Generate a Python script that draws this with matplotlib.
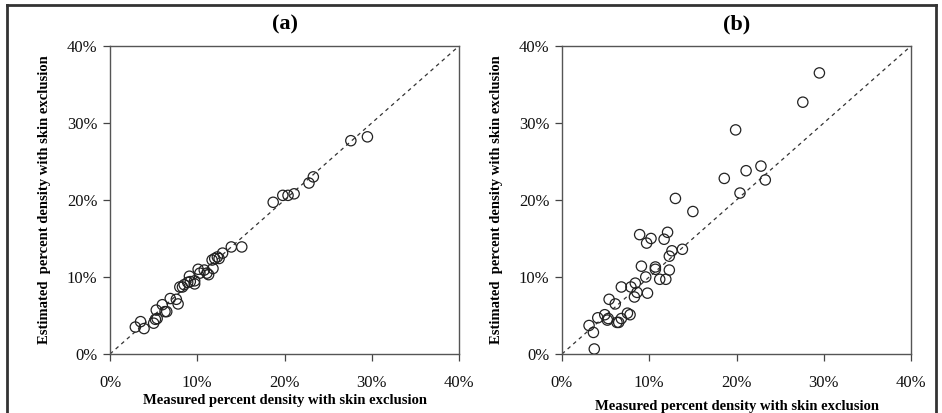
import numpy as np
import matplotlib
matplotlib.use("Agg")
from matplotlib import pyplot as plt
from matplotlib.lines import Line2D

plt.rcParams['font.family'] = ['Liberation Serif', 'DejaVu Serif']

# panel (a): measured vs estimated percent density (%)
a_measured = [2.9, 3.5, 3.9, 5.0, 5.2, 5.4, 5.3, 6.0, 6.3, 6.5, 6.9, 7.6, 7.8,
              8.0, 8.3, 8.5, 8.9, 9.1, 9.2, 9.7, 9.7, 10.1, 10.3, 10.8, 11.1,
              11.3, 11.8, 11.7, 12.0, 12.3, 12.5, 12.9, 13.9, 15.1,
              18.7, 19.8, 20.4, 21.1, 22.8, 23.3, 27.6, 29.5]
a_estimated = [3.5, 4.2, 3.3, 4.0, 4.5, 4.6, 5.7, 6.4, 5.5, 5.5, 7.2, 7.1, 6.5,
               8.7, 8.7, 9.0, 9.3, 10.1, 9.4, 9.1, 9.5, 11.0, 10.5, 10.9, 10.5,
               10.3, 11.1, 12.2, 12.4, 12.6, 12.4, 13.1, 13.9, 13.9,
               19.7, 20.6, 20.6, 20.8, 22.2, 23.0, 27.7, 28.2]

# panel (b)
b_measured = [3.7, 3.6, 3.1, 4.1, 4.9, 5.3, 5.2, 5.4, 6.1, 6.3, 6.5, 6.8, 6.8,
              7.5, 7.8, 7.9, 8.4, 8.3, 8.6, 9.1, 8.9, 9.7, 10.2, 9.6, 9.8,
              10.7, 10.7, 11.2, 11.9, 11.7, 12.1, 12.3, 12.3, 12.6, 13.8,
              15.0, 13.0, 29.5, 27.6, 19.9, 18.6, 21.1, 22.8, 23.3, 20.4]
b_estimated = [0.65, 2.8, 3.7, 4.7, 5.1, 4.6, 4.4, 7.1, 6.5, 4.1, 4.1, 4.6, 8.7,
               5.3, 5.1, 8.7, 9.2, 7.4, 8.0, 11.4, 15.5, 14.4, 15.0, 10.0, 7.9,
               11.3, 11.0, 9.7, 9.7, 14.9, 15.8, 10.9, 12.7, 13.4, 13.6,
               18.5, 20.2, 36.5, 32.7, 29.1, 22.8, 23.8, 24.4, 22.6, 20.9]

ticks = [0, 10, 20, 30, 40]
tick_labels = ['0%', '10%', '20%', '30%', '40%']
xlabel = 'Measured percent density with skin exclusion'
ylabel = 'Estimated  percent density with skin exclusion'

fig = plt.figure(figsize=(9.42, 4.13), dpi=100)

panels = [
    ('(a)', a_measured, a_estimated, 0.1168, -0.13),
    ('(b)', b_measured, b_estimated, 0.5966, -0.15),
]

for title, xs, ys, left, xlab_y in panels:
    ax = fig.add_axes([left, 0.1429, 0.3705, 0.7458])
    ax.plot([0, 40], [0, 40], linestyle=(0, (3, 3)), color='#333333', lw=0.9)
    ax.scatter(xs, ys, s=55, facecolors='none', edgecolors='#222222',
               linewidths=0.9, zorder=3)
    ax.set_xlim(0, 40)
    ax.set_ylim(0, 40)
    ax.set_xticks(ticks)
    ax.set_yticks(ticks)
    ax.set_xticklabels(tick_labels)
    ax.set_yticklabels(tick_labels)
    ax.tick_params(direction='out', length=5, width=0.9, colors='#444444',
                   labelcolor='#111111', labelsize=12, pad=4)
    ax.tick_params(axis='x', pad=10)
    for sp in ax.spines.values():
        sp.set_color('#555555')
        sp.set_linewidth(1.0)
    ax.set_title(title, fontsize=16, fontweight='bold', pad=12)
    ax.set_xlabel(xlabel, fontsize=10.5, fontweight='bold')
    ax.xaxis.set_label_coords(0.5, xlab_y)
    ax.set_ylabel(ylabel, fontsize=10.5, fontweight='bold')
    ax.yaxis.set_label_coords(-0.17, 0.5)

# outer frame (open at the bottom)
frame = dict(color='#333333', lw=2, transform=fig.transFigure)
fig.add_artist(Line2D([7 / 942, 7 / 942], [0, 1 - 5 / 413], **frame))
fig.add_artist(Line2D([7 / 942, 936 / 942], [1 - 5 / 413, 1 - 5 / 413], **frame))
fig.add_artist(Line2D([936 / 942, 936 / 942], [0, 1 - 5 / 413], **frame))

fig.savefig('out.png', dpi=100)
